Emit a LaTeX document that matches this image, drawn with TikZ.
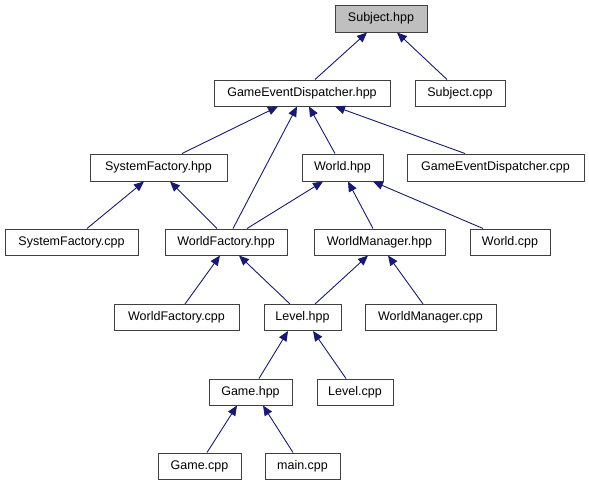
\documentclass[tikz,border=0pt]{standalone}
\usepackage{fontspec}
\setmainfont{Liberation Sans}
\usetikzlibrary{arrows.meta,calc}
\definecolor{edgeblue}{HTML}{191970}
\definecolor{boxline}{HTML}{404040}
\definecolor{rootfill}{HTML}{BFBFBF}
\tikzset{
  filebox/.style={draw=boxline, line width=1pt, fill=white, minimum height=26pt, inner sep=0pt, font=\fontsize{12.5}{14}\selectfont, anchor=center},
  rootbox/.style={filebox, fill=rootfill},
  dep/.style={draw=edgeblue, line width=0.9pt, -{Triangle[length=10pt,width=8.5pt]}},
}
\newcommand{\depedge}[4]{\draw[dep] ($(#1.north)+(#2,0)$) -- ($(#3.south)+(#4,0)$);}
\begin{document}
\begin{tikzpicture}[x=1pt,y=-1pt]
\useasboundingbox (0,0) rectangle (589,485);
\node[rootbox, minimum width=92pt, minimum height=27pt] (subj) at (381,18.5) {Subject.hpp};
\node[filebox, minimum width=176pt] (ged) at (302,93) {GameEventDispatcher.hpp};
\node[filebox, minimum width=90pt] (subjcpp) at (460,93) {Subject.cpp};
\node[filebox, minimum width=137pt, minimum height=27pt] (sfh) at (158.5,167.5) {SystemFactory.hpp};
\node[filebox, minimum width=81pt, minimum height=27pt] (worldh) at (342.5,167.5) {World.hpp};
\node[filebox, minimum width=177pt, minimum height=27pt] (gedcpp) at (495.5,167.5) {GameEventDispatcher.cpp};
\node[filebox, minimum width=133pt] (sfcpp) at (71.5,242) {SystemFactory.cpp};
\node[filebox, minimum width=122pt] (wfh) at (226,242) {WorldFactory.hpp};
\node[filebox, minimum width=131pt] (wmh) at (379.5,242) {WorldManager.hpp};
\node[filebox, minimum width=80pt] (worldcpp) at (510,242) {World.cpp};
\node[filebox, minimum width=125pt] (wfcpp) at (176.5,317.5) {WorldFactory.cpp};
\node[filebox, minimum width=77pt] (levelh) at (302.5,317.5) {Level.hpp};
\node[filebox, minimum width=131pt] (wmcpp) at (430.5,317.5) {WorldManager.cpp};
\node[filebox, minimum width=83pt] (gameh) at (250.5,392) {Game.hpp};
\node[filebox, minimum width=76pt] (levelcpp) at (355,392) {Level.cpp};
\node[filebox, minimum width=83pt] (gamecpp) at (199.5,466) {Game.cpp};
\node[filebox, minimum width=75pt] (maincpp) at (302.5,466) {main.cpp};
\depedge{ged}{13}{subj}{-14}
\depedge{subjcpp}{-13}{subj}{16}
\depedge{sfh}{23.5}{ged}{-24}
\depedge{wfh}{7}{ged}{-5}
\depedge{worldh}{-7.5}{ged}{7}
\depedge{gedcpp}{-30.5}{ged}{33}
\depedge{sfcpp}{15.5}{sfh}{-14.5}
\depedge{wfh}{-9}{sfh}{11.5}
\depedge{wfh}{21}{worldh}{-19.5}
\depedge{wmh}{-6.5}{worldh}{5.5}
\depedge{worldcpp}{-27}{worldh}{30.5}
\depedge{wfcpp}{8.5}{wfh}{-6}
\depedge{levelh}{-12.5}{wfh}{13}
\depedge{levelh}{12.5}{wmh}{-11.5}
\depedge{wmcpp}{-7.5}{wmh}{8.5}
\depedge{gameh}{8.5}{levelh}{-14.5}
\depedge{levelcpp}{-9}{levelh}{10.5}
\depedge{gamecpp}{7.5}{gameh}{-13.5}
\depedge{maincpp}{-9.5}{gameh}{12.5}
\end{tikzpicture}
\end{document}
